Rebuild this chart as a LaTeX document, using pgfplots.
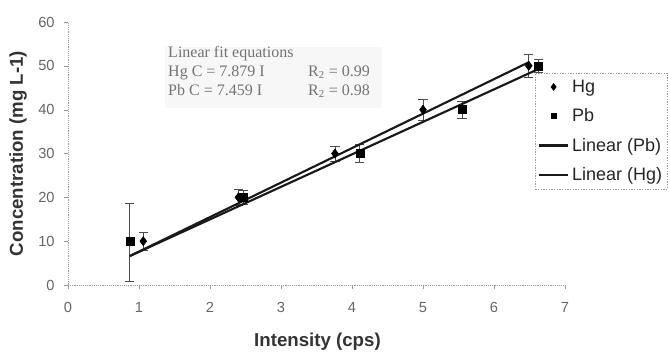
\documentclass[border=0pt]{standalone}
\usepackage{fontspec}
\setmainfont{Liberation Sans}
\newfontfamily\serifbox{Liberation Serif}
\usepackage{pgfplots}
\usepackage{pgfplotstable}
\pgfplotsset{compat=1.18}
\definecolor{axgray}{gray}{0.6}
\definecolor{tickgray}{gray}{0.4}
\definecolor{errgray}{gray}{0.3}
\definecolor{boxtext}{gray}{0.45}
\definecolor{boxbg}{gray}{0.97}
\pgfplotsset{
  hglegend/.style={legend image code/.code={\path[##1, mark size=2.6pt] plot coordinates {(13pt,0pt)};}},
  pblegend/.style={legend image code/.code={\path[##1, mark size=2pt] plot coordinates {(13pt,0pt)};}},
  linelegend/.style={legend image code/.code={\draw[##1,solid] (2pt,0pt) -- (24pt,0pt);}},
}

\pgfplotstableread{
x y ep em
1.06 10 2.0 2.0
2.40 20 1.9 1.9
3.76 30 1.7 1.7
5.00 40 2.4 2.4
6.49 50 2.7 2.7
}\hgdata
\pgfplotstableread{
x y ep em
0.87 10 8.7 9.1
2.47 20 1.5 1.5
4.11 30 2.0 2.0
5.55 40 1.9 1.9
6.63 50 1.4 1.4
}\pbdata
\pgfplotstableread{
x y
0.87 6.6
6.50 50.9
}\hgfit
\pgfplotstableread{
x y
0.87 6.6
6.63 49.3
}\pbfit

\begin{document}
\begin{tikzpicture}
\begin{axis}[
  scale only axis,
  width=372.75pt, height=197.25pt,
  xmin=0, xmax=7, ymin=0, ymax=60,
  xtick={0,1,...,7}, ytick={0,10,...,60},
  axis x line*=bottom, axis y line*=left,
  axis line style={axgray, densely dotted, -},
  tick align=outside, major tick length=3pt,
  tick style={axgray, solid},
  tick label style={font=\fontsize{11}{12}\selectfont, text=tickgray},
  xticklabel style={yshift=-6.5pt},
  yticklabel style={xshift=-3.5pt},
  /pgf/number format/assume math mode=true,
  every axis x label/.style={at={(axis description cs:0.502,-0.2167)}, anchor=center},
  every axis y label/.style={at={(axis description cs:-0.1006,0.5)}, anchor=center, rotate=90},
  label style={font=\bfseries\fontsize{14}{16}\selectfont, text=black!80},
  xlabel={Intensity (cps)},
  ylabel={Concentration (mg L-1)},
  clip=false,
  legend style={at={(axis description cs:0.9396,0.8067)}, anchor=north west,
    draw=axgray, dash pattern=on 1pt off 1pt,
    font=\fontsize{13.5}{15}\selectfont, text=black!85,
    inner xsep=2pt, inner ysep=3pt,
    row sep=6.8pt, cells={anchor=west}},
  legend cell align=left,
]
\fill[boxbg] (axis cs:1.366,54.3) rectangle (axis cs:4.423,40.4);
\node[anchor=north west, inner sep=0pt, align=left, text=boxtext,
  font=\serifbox\fontsize{12}{14.25}\selectfont]
  at (axis cs:1.408,54.6)
  {Linear fit equations\\
   \makebox[105pt][l]{Hg C = 7.879 I}R\textsubscript{2} = 0.99\\
   \makebox[105pt][l]{Pb C = 7.459 I}R\textsubscript{2} = 0.98};

\addplot[only marks, solid, mark=diamond*, mark size=3.4pt, black,
  mark options={solid, black}, hglegend,
  error bars/.cd, y dir=both, y explicit,
  error bar style={errgray, solid, line width=0.6pt},
  error mark options={rotate=90, mark size=3.5pt, errgray, solid, line width=0.6pt}]
  table[x=x, y=y, y error plus=ep, y error minus=em] {\hgdata};
\addlegendentry{Hg}
\addplot[only marks, solid, mark=square*, mark size=3pt, black,
  mark options={solid, black}, pblegend,
  error bars/.cd, y dir=both, y explicit,
  error bar style={errgray, solid, line width=0.6pt},
  error mark options={rotate=90, mark size=3.5pt, errgray, solid, line width=0.6pt}]
  table[x=x, y=y, y error plus=ep, y error minus=em] {\pbdata};
\addlegendentry{Pb}
\addplot[black!90, solid, line width=1.6pt, no markers, linelegend]
  table[x=x,y=y] {\pbfit};
\addlegendentry{Linear (Pb)}
\addplot[black!90, solid, line width=1.6pt, no markers, linelegend]
  table[x=x,y=y] {\hgfit};
\addlegendentry{Linear (Hg)}
\end{axis}
\pgfresetboundingbox
\path[use as bounding box] (-51pt,-51.75pt) rectangle (450.75pt,213.75pt);
\end{tikzpicture}
\end{document}
